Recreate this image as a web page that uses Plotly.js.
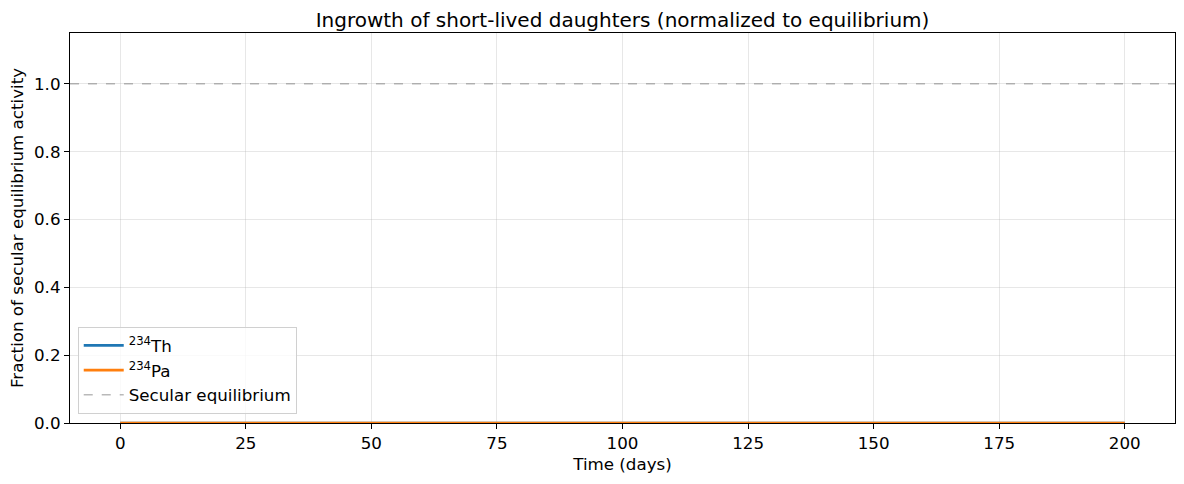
<!DOCTYPE html>
<html>
<head>
<meta charset="utf-8">
<script src="https://cdn.plot.ly/plotly-3.0.1.min.js"></script>
<style>html,body{margin:0;padding:0;background:#fff;}#chart{width:1184px;height:484px;}</style>
</head>
<body>
<div id="chart"></div>
<script>
const timeDays = [0, 25, 50, 75, 100, 125, 150, 175, 200];
const th234 = [0, 0, 0, 0, 0, 0, 0, 0, 0];
const pa234 = [0, 0, 0, 0, 0, 0, 0, 0, 0];
const equilibriumLevel = 1.0;
const xTicks = [0, 25, 50, 75, 100, 125, 150, 175, 200];
const yTicks = [0.0, 0.2, 0.4, 0.6, 0.8, 1.0];
const yTickLabels = ["0.0", "0.2", "0.4", "0.6", "0.8", "1.0"];

const font = "DejaVu Sans";
const traces = [
  {x: timeDays, y: th234, mode: "lines", name: "<sup>234</sup>Th",
   line: {color: "#1f77b4", width: 2.6}},
  {x: timeDays, y: pa234, mode: "lines", name: "<sup>234</sup>Pa",
   line: {color: "#ff7f0e", width: 2.6}},
  {x: [-10, 210], y: [equilibriumLevel, equilibriumLevel], mode: "lines", name: "Secular equilibrium",
   line: {color: "rgba(128,128,128,0.55)", width: 1.5, dash: "dash"}}
];
const layout = {
  width: 1184, height: 484,
  margin: {l: 70, r: 9, t: 33, b: 61},
  paper_bgcolor: "#fff", plot_bgcolor: "#fff",
  font: {family: font, size: 16.7, color: "#000"},
  title: {text: "Ingrowth of short-lived daughters (normalized to equilibrium)",
    font: {family: font, size: 20, color: "#000"}, x: 0.5, xref: "paper", xanchor: "center", y: 1, yref: "paper", yanchor: "bottom", pad: {b: 6}},
  xaxis: {range: [-10, 210], tickvals: xTicks, ticktext: xTicks.map(String),
    ticks: "outside", ticklen: 5, tickwidth: 1, tickcolor: "#000",
    showline: true, linecolor: "#000", linewidth: 1.1, mirror: true,
    showgrid: true, gridcolor: "rgba(176,176,176,0.3)", gridwidth: 1, zeroline: false,
    tickfont: {family: font, size: 16.7, color: "#000"},
    title: {text: "Time (days)", font: {family: font, size: 16.7, color: "#000"}, standoff: 6}},
  yaxis: {range: [0, 1.15], tickvals: yTicks, ticktext: yTickLabels,
    ticks: "outside", ticklen: 5, tickwidth: 1, tickcolor: "#000",
    showline: true, linecolor: "#000", linewidth: 1.1, mirror: true,
    showgrid: true, gridcolor: "rgba(176,176,176,0.3)", gridwidth: 1, zeroline: false,
    tickfont: {family: font, size: 16.7, color: "#000"},
    title: {text: "Fraction of secular equilibrium activity", font: {family: font, size: 16.7, color: "#000"}, standoff: 6}},
  showlegend: true,
  legend: {x: 0.007, y: 0.023, xanchor: "left", yanchor: "bottom",
    bgcolor: "rgba(255,255,255,0.8)", bordercolor: "#d0d0d0", borderwidth: 1,
    font: {family: font, size: 16.7, color: "#000"}, tracegroupgap: 0, itemwidth: 40}
};
Plotly.newPlot("chart", traces, layout, {displayModeBar: false, staticPlot: true});
</script>
</body>
</html>
